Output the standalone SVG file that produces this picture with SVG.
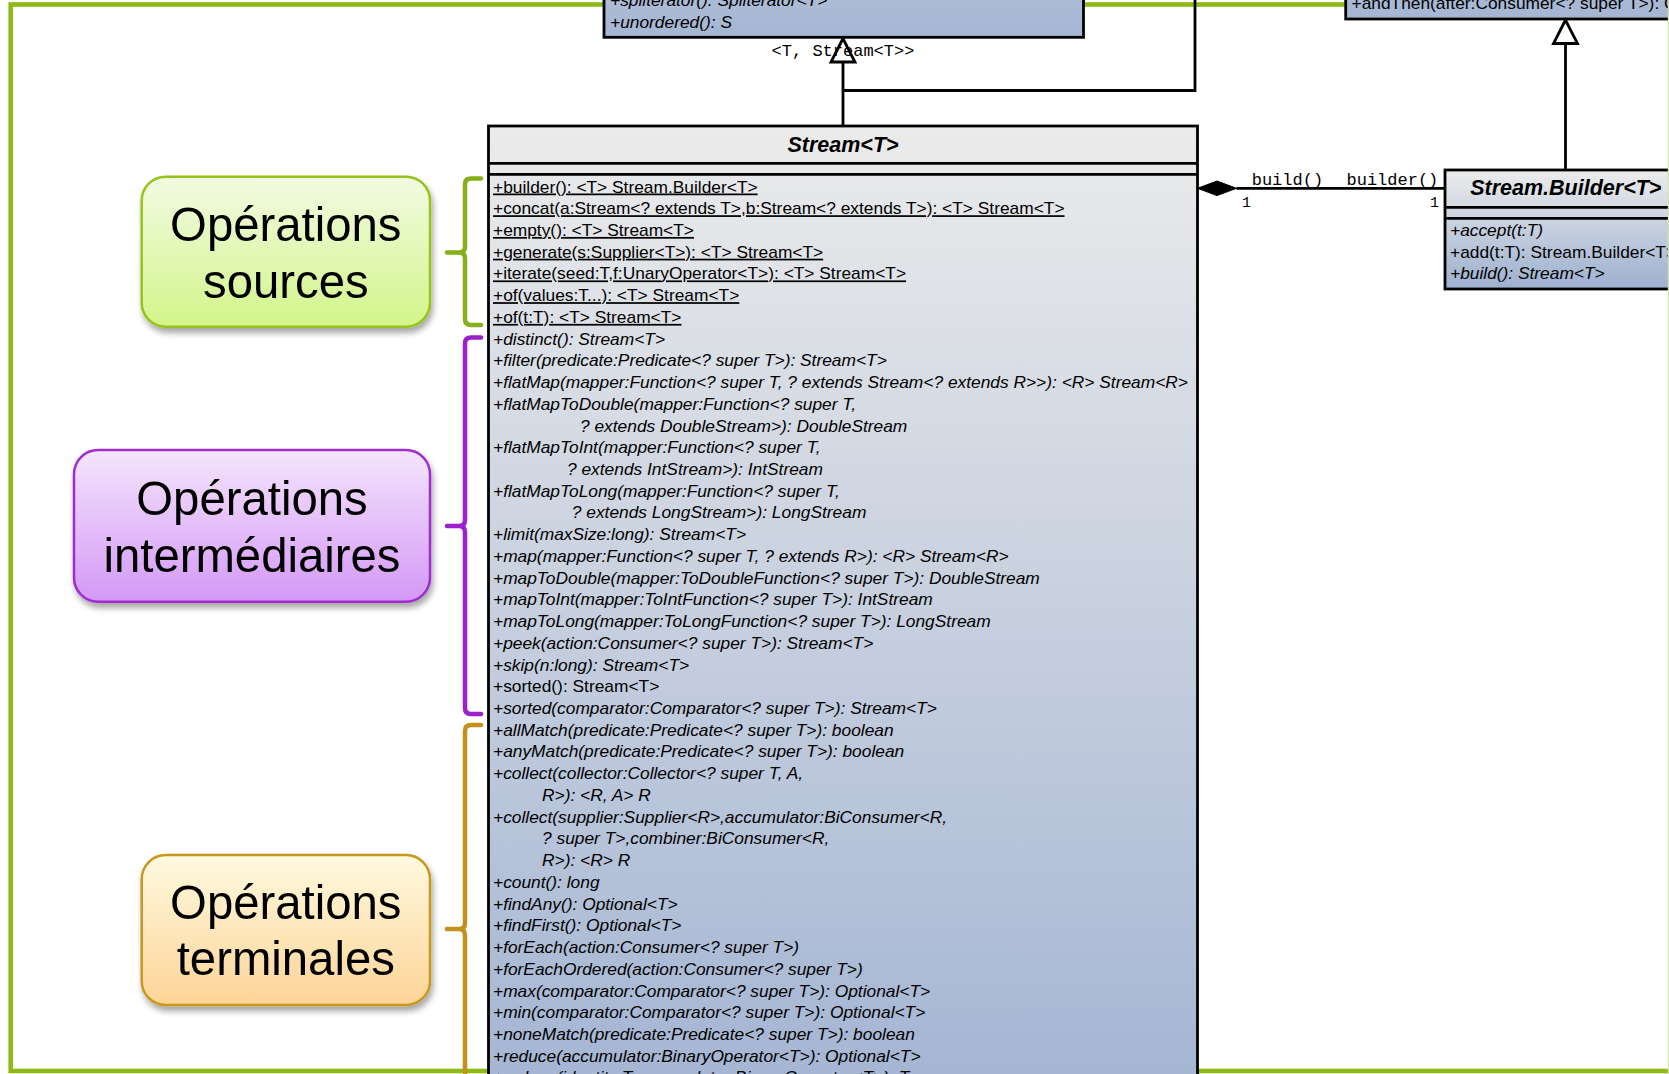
<svg xmlns="http://www.w3.org/2000/svg" width="1669" height="1074" viewBox="0 0 1669 1074">
  <defs>
    <style>
      .m{font-family:"Liberation Sans",Arial,sans-serif;font-size:17.35px;fill:#000}
      .i{font-style:italic}
      .u{text-decoration:underline}
      .title{font-family:"Liberation Sans",Arial,sans-serif;font-size:21.5px;font-weight:bold;font-style:italic;text-anchor:middle;fill:#000}
      .mono{font-family:"Liberation Mono","Courier New",monospace;font-size:17px;fill:#000}
      .mult{font-family:"Liberation Mono","Courier New",monospace;font-size:15px;fill:#000;text-anchor:middle}
      .lbl{font-family:"Liberation Sans",Arial,sans-serif;font-size:47.3px;text-anchor:middle;fill:#000}
      .box{stroke:#000;stroke-width:2.8}
      .sep{stroke:#000;stroke-width:2.8}
      .conn{stroke:#000;stroke-width:2.8;fill:none}
      .head{fill:#fff;stroke:#000;stroke-width:2.8;stroke-linejoin:miter}
      .brace{fill:none;stroke-width:4.5;stroke-linecap:round;stroke-linejoin:round}
    </style>
    <linearGradient id="gStream" gradientUnits="userSpaceOnUse" x1="0" y1="126" x2="0" y2="1090">
      <stop offset="0" stop-color="#ebebeb"/>
      <stop offset="1" stop-color="#a4b5d3"/>
    </linearGradient>
    <linearGradient id="gBuilder" x1="0" y1="0" x2="0" y2="1">
      <stop offset="0" stop-color="#ececec"/>
      <stop offset="1" stop-color="#9db0cf"/>
    </linearGradient>
    <linearGradient id="gTop" x1="0" y1="0" x2="0" y2="1">
      <stop offset="0" stop-color="#b6c3da"/>
      <stop offset="1" stop-color="#a5b6d3"/>
    </linearGradient>
    <linearGradient id="gGreen" x1="0" y1="0" x2="0" y2="1">
      <stop offset="0" stop-color="#f1fbe2"/>
      <stop offset="1" stop-color="#d3f58a"/>
    </linearGradient>
    <linearGradient id="gPurple" x1="0" y1="0" x2="0" y2="1">
      <stop offset="0" stop-color="#f4e5fc"/>
      <stop offset="1" stop-color="#d498f6"/>
    </linearGradient>
    <linearGradient id="gOrange" x1="0" y1="0" x2="0" y2="1">
      <stop offset="0" stop-color="#fffae0"/>
      <stop offset="1" stop-color="#fdd497"/>
    </linearGradient>
    <filter id="shadow" x="-10%" y="-10%" width="130%" height="140%">
      <feGaussianBlur in="SourceAlpha" stdDeviation="3"/>
      <feOffset dx="2" dy="5" result="off"/>
      <feComponentTransfer><feFuncA type="linear" slope="0.35"/></feComponentTransfer>
      <feMerge><feMergeNode/><feMergeNode in="SourceGraphic"/></feMerge>
    </filter>
  </defs>

  <rect x="0" y="0" width="1669" height="1074" fill="#fff"/>

  <!-- outer green frame -->
  <rect id="frame" x="10.7" y="4.5" width="1660" height="1066.5" fill="none" stroke="#8dba15" stroke-width="4.6"/>

  <!-- BaseStream (top, clipped) -->
  <g id="node-basestream">
    <rect class="box" x="604" y="-50" width="479.5" height="87.3" fill="url(#gTop)"/>
    <text class="m i" x="610" y="5.8">+spliterator(): Spliterator&lt;T&gt;</text>
    <text class="m i" x="610" y="27.5">+unordered(): S</text>
  </g>

  <!-- Consumer (top right, clipped) -->
  <g id="node-consumer">
    <rect class="box" x="1345.7" y="-60" width="400" height="79" fill="url(#gTop)"/>
    <text class="m" x="1351.5" y="8.5">+andThen(after:Consumer&lt;? super T&gt;): C</text>
  </g>

  <!-- Stream<T> -->
  <g id="node-stream">
    <rect class="box" x="488.5" y="126" width="709" height="1000" fill="url(#gStream)"/>
    <line class="sep" x1="488.5" y1="163.3" x2="1197.5" y2="163.3"/>
    <line class="sep" x1="488.5" y1="174.3" x2="1197.5" y2="174.3"/>
    <text class="title" x="843" y="151.5">Stream&lt;T&gt;</text>
    <g class="m">
      <text class="u" x="493" y="192.5">+builder(): &lt;T&gt; Stream.Builder&lt;T&gt;</text>
      <text class="u" x="493" y="214.23">+concat(a:Stream&lt;? extends T&gt;,b:Stream&lt;? extends T&gt;): &lt;T&gt; Stream&lt;T&gt;</text>
      <text class="u" x="493" y="235.96">+empty(): &lt;T&gt; Stream&lt;T&gt;</text>
      <text class="u" x="493" y="257.69">+generate(s:Supplier&lt;T&gt;): &lt;T&gt; Stream&lt;T&gt;</text>
      <text class="u" x="493" y="279.42">+iterate(seed:T,f:UnaryOperator&lt;T&gt;): &lt;T&gt; Stream&lt;T&gt;</text>
      <text class="u" x="493" y="301.15">+of(values:T...): &lt;T&gt; Stream&lt;T&gt;</text>
      <text class="u" x="493" y="322.88">+of(t:T): &lt;T&gt; Stream&lt;T&gt;</text>
      <text class="i" x="493" y="344.61">+distinct(): Stream&lt;T&gt;</text>
      <text class="i" x="493" y="366.34">+filter(predicate:Predicate&lt;? super T&gt;): Stream&lt;T&gt;</text>
      <text class="i" x="493" y="388.07">+flatMap(mapper:Function&lt;? super T, ? extends Stream&lt;? extends R&gt;&gt;): &lt;R&gt; Stream&lt;R&gt;</text>
      <text class="i" x="493" y="409.8">+flatMapToDouble(mapper:Function&lt;? super T,</text>
      <text class="i" x="580" y="431.53">? extends DoubleStream&gt;): DoubleStream</text>
      <text class="i" x="493" y="453.26">+flatMapToInt(mapper:Function&lt;? super T,</text>
      <text class="i" x="567" y="474.99">? extends IntStream&gt;): IntStream</text>
      <text class="i" x="493" y="496.72">+flatMapToLong(mapper:Function&lt;? super T,</text>
      <text class="i" x="571.8" y="518.45">? extends LongStream&gt;): LongStream</text>
      <text class="i" x="493" y="540.18">+limit(maxSize:long): Stream&lt;T&gt;</text>
      <text class="i" x="493" y="561.91">+map(mapper:Function&lt;? super T, ? extends R&gt;): &lt;R&gt; Stream&lt;R&gt;</text>
      <text class="i" x="493" y="583.64">+mapToDouble(mapper:ToDoubleFunction&lt;? super T&gt;): DoubleStream</text>
      <text class="i" x="493" y="605.37">+mapToInt(mapper:ToIntFunction&lt;? super T&gt;): IntStream</text>
      <text class="i" x="493" y="627.1">+mapToLong(mapper:ToLongFunction&lt;? super T&gt;): LongStream</text>
      <text class="i" x="493" y="648.83">+peek(action:Consumer&lt;? super T&gt;): Stream&lt;T&gt;</text>
      <text class="i" x="493" y="670.56">+skip(n:long): Stream&lt;T&gt;</text>
      <text x="493" y="692.29">+sorted(): Stream&lt;T&gt;</text>
      <text class="i" x="493" y="714.02">+sorted(comparator:Comparator&lt;? super T&gt;): Stream&lt;T&gt;</text>
      <text class="i" x="493" y="735.75">+allMatch(predicate:Predicate&lt;? super T&gt;): boolean</text>
      <text class="i" x="493" y="757.48">+anyMatch(predicate:Predicate&lt;? super T&gt;): boolean</text>
      <text class="i" x="493" y="779.21">+collect(collector:Collector&lt;? super T, A,</text>
      <text class="i" x="542" y="800.94">R&gt;): &lt;R, A&gt; R</text>
      <text class="i" x="493" y="822.67">+collect(supplier:Supplier&lt;R&gt;,accumulator:BiConsumer&lt;R,</text>
      <text class="i" x="542" y="844.4">? super T&gt;,combiner:BiConsumer&lt;R,</text>
      <text class="i" x="542" y="866.13">R&gt;): &lt;R&gt; R</text>
      <text class="i" x="493" y="887.86">+count(): long</text>
      <text class="i" x="493" y="909.59">+findAny(): Optional&lt;T&gt;</text>
      <text class="i" x="493" y="931.32">+findFirst(): Optional&lt;T&gt;</text>
      <text class="i" x="493" y="953.05">+forEach(action:Consumer&lt;? super T&gt;)</text>
      <text class="i" x="493" y="974.78">+forEachOrdered(action:Consumer&lt;? super T&gt;)</text>
      <text class="i" x="493" y="996.51">+max(comparator:Comparator&lt;? super T&gt;): Optional&lt;T&gt;</text>
      <text class="i" x="493" y="1018.24">+min(comparator:Comparator&lt;? super T&gt;): Optional&lt;T&gt;</text>
      <text class="i" x="493" y="1039.97">+noneMatch(predicate:Predicate&lt;? super T&gt;): boolean</text>
      <text class="i" x="493" y="1061.7">+reduce(accumulator:BinaryOperator&lt;T&gt;): Optional&lt;T&gt;</text>
      <text class="i" x="493" y="1083.43">+reduce(identity:T,accumulator:BinaryOperator&lt;T&gt;): T</text>
    </g>
  </g>

  <!-- Stream.Builder<T> -->
  <g id="node-builder">
    <rect class="box" x="1445" y="170" width="242" height="119" fill="url(#gBuilder)"/>
    <line class="sep" x1="1445" y1="207.3" x2="1687" y2="207.3"/>
    <line class="sep" x1="1445" y1="218.3" x2="1687" y2="218.3"/>
    <text class="title" x="1565.8" y="194.5">Stream.Builder&lt;T&gt;</text>
    <text class="m i" x="1450" y="236">+accept(t:T)</text>
    <text class="m" x="1450" y="257.7">+add(t:T): Stream.Builder&lt;T&gt;</text>
    <text class="m i" x="1450" y="279.4">+build(): Stream&lt;T&gt;</text>
  </g>

  <!-- relations -->
  <g id="connectors">
    <path class="conn" d="M843,126 V62 M843,90.5 H1195 V-2"/>
    <polygon class="head" points="843,38.5 831,62 855,62"/>
    <text class="mono" x="843" y="55.5" text-anchor="middle">&lt;T, Stream&lt;T&gt;&gt;</text>

    <path class="conn" d="M1565.5,170 V43.5"/>
    <polygon class="head" points="1565.5,20 1553.5,43.5 1577.5,43.5"/>

    <path class="conn" d="M1236.5,188.3 H1445"/>
    <polygon points="1197.5,188.3 1217,181 1236.5,188.3 1217,195.6" fill="#000" stroke="#000" stroke-width="1"/>
    <text class="mono" x="1251.7" y="184.5">build()</text>
    <text class="mono" x="1346.5" y="184.5">builder()</text>
    <text class="mult" x="1246.5" y="206.5">1</text>
    <text class="mult" x="1434.5" y="206.5">1</text>
  </g>

  <!-- braces grouping the operations -->
  <g id="braces">
    <path class="brace" stroke="#86b019" d="M481,178.5 H471 Q465,178.5 465,184.5 V246.5 Q465,252.5 459,252.5 H447 M459,252.5 Q465,252.5 465,258.5 V319 Q465,325 471,325 H481"/>
    <path class="brace" stroke="#9c20cc" d="M481,337.5 H471 Q465,337.5 465,343.5 V520 Q465,526 459,526 H447 M459,526 Q465,526 465,532 V708 Q465,714 471,714 H481"/>
    <path class="brace" stroke="#c3901b" d="M481,725 H471 Q465,725 465,731 V923 Q465,929 459,929 H447 M459,929 Q465,929 465,935 V1090"/>
  </g>

  <!-- category labels -->
  <g id="label-sources" filter="url(#shadow)">
    <rect x="141.7" y="176.7" width="288.3" height="150" rx="24" fill="url(#gGreen)" stroke="#99c21d" stroke-width="2.5"/>
    <text class="lbl" x="285.8" y="241">Opérations</text>
    <text class="lbl" x="285.8" y="297.5">sources</text>
  </g>
  <g id="label-intermediaires" filter="url(#shadow)">
    <rect x="74" y="450" width="356" height="151.7" rx="24" fill="url(#gPurple)" stroke="#a02ecf" stroke-width="2.5"/>
    <text class="lbl" x="252" y="515">Opérations</text>
    <text class="lbl" x="252" y="571.5">intermédiaires</text>
  </g>
  <g id="label-terminales" filter="url(#shadow)">
    <rect x="141.7" y="855" width="288.3" height="150" rx="24" fill="url(#gOrange)" stroke="#c8981f" stroke-width="2.5"/>
    <text class="lbl" x="285.8" y="918.5">Opérations</text>
    <text class="lbl" x="285.8" y="975">terminales</text>
  </g>

  <line x1="1668.4" y1="0" x2="1668.4" y2="1074" stroke="#d6e4ab" stroke-width="1.2"/>
</svg>
